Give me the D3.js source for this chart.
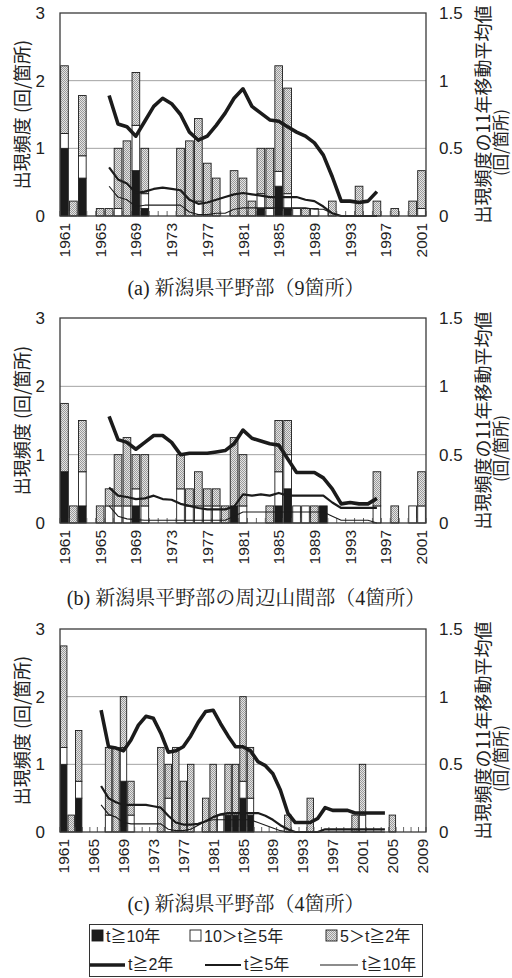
<!DOCTYPE html>
<html>
<head>
<meta charset="utf-8">
<script src="https://cdn.jsdelivr.net/npm/d3@7"></script>
<style>
  html, body { margin: 0; padding: 0; background: #fff; }
  svg { display: block; }
</style>
</head>
<body>
<svg id="chart" width="512" height="978"></svg>
<script>
// ---- categories and tick labels ----
const yearsAB = d3.range(1961, 2002);          // panels (a), (b)
const yearsC = d3.range(1961, 2010);           // panel (c)
const yearLabelsAB = [1961, 1965, 1969, 1973, 1977, 1981, 1985, 1989, 1993, 1997, 2001];
const yearLabelsC = [1961, 1965, 1969, 1973, 1977, 1981, 1985, 1989, 1993, 1997, 2001, 2005, 2009];
const leftTicks = [0, 1, 2, 3];
const rightTicks = [0, 0.5, 1, 1.5];

// ---- (a) 新潟県平野部 (9箇所): yearly frequency by duration class ----
const aBlack = [1.0,0,0.56,0,0,0,0,0,0.67,0.11, 0,0,0,0,0,0,0,0,0,0, 0,0,0.11,0,0.44,0.11,0,0,0,0, 0,0,0,0,0,0,0,0,0,0, 0];
const aWhite = [0.22,0,0.33,0,0,0,0.11,0,0.67,0.22, 0,0,0,0,0,0.22,0,0,0,0, 0,0,0.22,0.11,0.22,0.22,0.11,0,0.11,0, 0,0,0,0,0,0,0,0,0,0, 0.11];
const aGray  = [1.0,0.22,0.89,0,0.11,0.11,0.89,1.11,0.78,0.67, 0,0,0,1.0,1.11,1.22,0.78,0.56,0,0.67, 0.56,0.22,0.67,0.89,1.56,1.56,0,0.11,0,0, 0.22,0,0,0.44,0,0.22,0,0.11,0,0.22, 0.56];
// 11-year moving averages, 1966-1996
const aMa2  = [0.89,0.68,0.66,0.59,0.70,0.81,0.87,0.83,0.75,0.62,0.56,0.59,0.67,0.76,0.87,0.94,0.81,0.76,0.71,0.70,0.66,0.62,0.59,0.54,0.45,0.29,0.11,0.11,0.10,0.11,0.18];
const aMa5  = [0.36,0.27,0.24,0.17,0.18,0.20,0.21,0.20,0.19,0.12,0.09,0.10,0.12,0.14,0.16,0.17,0.16,0.15,0.14,0.14,0.14,0.14,0.12,0.11,0.07,0.02,0,0,0,0,0];
const aMa10 = [0.22,0.14,0.12,0.07,0.08,0.08,0.08,0.08,0.08,0.03,0.01,0.01,0.02,0.02,0.05,0.06,0.06,0.06,0.06,0.06,0.06,0.06,0.06,0.05,0.05,0.02,0,0,0,0,0];

// ---- (b) 新潟県平野部の周辺山間部 (4箇所) ----
const bBlack = [0.75,0,0.25,0,0,0,0,0,0.25,0, 0,0,0,0,0,0,0,0,0,0.25, 0,0,0,0,0.25,0.5,0,0,0,0.25, 0,0,0,0,0,0,0,0,0,0, 0];
const bWhite = [0,0,0.5,0,0,0.25,0.25,0.25,0.25,0.25, 0,0,0,0.5,0.25,0.25,0.25,0.25,0,0, 0.25,0,0,0,0.5,0.5,0.25,0.25,0,0, 0,0,0,0,0,0.25,0,0,0,0.25, 0.25];
const bGray  = [1.0,0.25,0.75,0,0.25,0.25,0.75,1.0,0.5,0.75, 0,0,0,0.5,0.25,0.5,0.25,0.25,0.25,1.0, 0.75,0,0,0.25,0.75,0.5,0,0,0.25,0, 0,0,0,0,0,0.5,0,0.25,0,0, 0.5];
const bMa2  = [0.78,0.61,0.59,0.54,0.59,0.64,0.64,0.59,0.50,0.51,0.51,0.51,0.52,0.53,0.58,0.68,0.62,0.60,0.58,0.57,0.47,0.37,0.37,0.37,0.33,0.25,0.14,0.15,0.14,0.14,0.18];
const bMa5  = [0.26,0.20,0.19,0.175,0.18,0.20,0.175,0.17,0.14,0.125,0.11,0.10,0.10,0.10,0.12,0.21,0.20,0.21,0.20,0.22,0.20,0.20,0.20,0.20,0.20,0.15,0.11,0.11,0.11,0.11,0.11];
const bMa10 = [0.125,0.05,0.03,0.025,0.02,0.02,0.02,0.02,0.02,0.02,0.02,0.02,0.02,0.02,0.05,0.08,0.08,0.08,0.08,0.08,0.08,0.08,0.08,0.08,0.08,0.05,0.02,0.02,0.02,0.02,0];

// ---- (c) 新潟県平野部 (4箇所) ----
const cBlack = [1.0,0,0.5,0,0,0,0,0,0.75,0, 0,0,0,0,0,0,0,0,0,0, 0,0,0.25,0.25,0.5,0.25,0,0,0,0, 0,0,0,0,0,0,0,0,0,0, 0,0,0,0,0,0,0,0,0];
const cWhite = [0.25,0,0.25,0,0,0,0.25,0,0.5,0.25, 0,0,0,0,0.5,0,0,0,0,0, 0,0.25,0,0,0.25,0.25,0,0,0,0, 0,0,0,0,0,0,0,0,0,0, 0.25,0,0,0,0,0,0,0,0];
const cGray  = [1.5,0.25,0.75,0,0,0,1.0,1.25,0.75,0.5, 0,0,0,1.25,0.5,1.25,0.75,1.0,0,0.5, 1.0,0,0.75,0.75,1.25,0.75,0,0,0,0, 0.25,0,0,0.5,0,0,0,0,0,0.25, 0.75,0,0,0,0.25,0,0,0,0];
// 11-year moving averages, 1966-2004
const cMa2  = [0.90,0.63,0.62,0.60,0.68,0.79,0.855,0.84,0.73,0.59,0.60,0.63,0.71,0.81,0.89,0.90,0.80,0.71,0.63,0.63,0.60,0.52,0.49,0.43,0.31,0.14,0.07,0.07,0.07,0.10,0.18,0.16,0.16,0.16,0.14,0.14,0.14,0.14,0.14];
const cMa5  = [0.34,0.25,0.22,0.20,0.20,0.20,0.20,0.19,0.18,0.12,0.07,0.055,0.055,0.06,0.08,0.11,0.13,0.14,0.14,0.14,0.14,0.14,0.12,0.09,0.05,0.02,0,0,0,0,0.02,0.02,0.02,0.02,0.02,0.02,0.02,0.02,0.02];
const cMa10 = [0.20,0.13,0.11,0.07,0.06,0.06,0.06,0.06,0.06,0.02,0.01,0.01,0.02,0.05,0.08,0.09,0.09,0.09,0.09,0.09,0.09,0.07,0.05,0.03,0.01,0,0,0,0,0,0,0,0,0,0,0,0,0,0];

const captions = ["(a) 新潟県平野部（9箇所）", "(b) 新潟県平野部の周辺山間部（4箇所）", "(c) 新潟県平野部（4箇所）"];
const leftTitle = "出現頻度 (回/箇所)";
const rightTitle1 = "出現頻度の11年移動平均値";
const rightTitle2 = "(回/箇所)";
const barLegend = ["t≧10年", "10＞t≧5年", "5＞t≧2年"];
const lineLegend = ["t≧2年", "t≧5年", "t≧10年"];

// ---- drawing ----
const SANS = "'Liberation Sans', Arial, 'Noto Sans CJK JP', sans-serif";
const JP = "'Noto Sans CJK JP', 'Liberation Sans', sans-serif";
const SERIF = "'Liberation Serif', 'Noto Serif CJK JP', 'Noto Sans CJK JP', serif";
const INK = "#1b1b1b";

const svg = d3.select("#chart");
const defs = svg.append("defs");
const pat = defs.append("pattern").attr("id", "hatch")
  .attr("width", 2).attr("height", 2).attr("patternUnits", "userSpaceOnUse");
pat.append("rect").attr("width", 2).attr("height", 2).attr("fill", "#e4e4e4");
pat.append("rect").attr("width", 1).attr("height", 1).attr("fill", "#9a9a9a");
pat.append("rect").attr("x", 1).attr("y", 1).attr("width", 1).attr("height", 1).attr("fill", "#9a9a9a");

const fills = { black: INK, white: "#ffffff", gray: "url(#hatch)" };
const lineWidths = { ma2: 3.6, ma5: 2.2, ma10: 1.1 };

const L = 60, R = 426;

const panels = [
  { years: yearsAB, labels: yearLabelsAB, black: aBlack, white: aWhite, gray: aGray,
    maStart: 1966, ma2: aMa2, ma5: aMa5, ma10: aMa10, top: 13, bottom: 216, cap: captions[0], capY: 295 },
  { years: yearsAB, labels: yearLabelsAB, black: bBlack, white: bWhite, gray: bGray,
    maStart: 1966, ma2: bMa2, ma5: bMa5, ma10: bMa10, top: 318, bottom: 523, cap: captions[1], capY: 605 },
  { years: yearsC, labels: yearLabelsC, black: cBlack, white: cWhite, gray: cGray,
    maStart: 1966, ma2: cMa2, ma5: cMa5, ma10: cMa10, top: 629, bottom: 832, cap: captions[2], capY: 911 }
];

panels.forEach(p => {
  const g = svg.append("g");
  const x = d3.scaleBand().domain(p.years).range([L, R]);
  const yL = d3.scaleLinear().domain([0, 3]).range([p.bottom, p.top]);
  const yR = d3.scaleLinear().domain([0, 1.5]).range([p.bottom, p.top]);
  const bw = x.bandwidth();
  const inset = bw * 0.07;

  // horizontal gridlines
  g.selectAll("line.grid").data([1, 2]).join("line")
    .attr("x1", L).attr("x2", R)
    .attr("y1", d => yL(d)).attr("y2", d => yL(d))
    .attr("stroke", "#a3a3a3").attr("stroke-width", 1);

  // stacked bar segments: black (bottom), white, hatched gray (top)
  const segs = [];
  p.years.forEach((yr, i) => {
    let base = 0;
    [["black", p.black[i]], ["white", p.white[i]], ["gray", p.gray[i]]].forEach(([k, v]) => {
      if (v > 0) { segs.push({ yr, k, y0: base, y1: base + v }); base += v; }
    });
  });
  g.selectAll("rect.seg").data(segs).join("rect")
    .attr("x", d => x(d.yr) + inset)
    .attr("width", bw - 2 * inset)
    .attr("y", d => yL(d.y1))
    .attr("height", d => yL(d.y0) - yL(d.y1))
    .attr("fill", d => fills[d.k])
    .attr("stroke", INK).attr("stroke-width", 0.9);

  // inner tick marks between categories
  const bounds = p.years.map(yr => x(yr)).concat([R]);
  g.selectAll("line.tk").data(bounds).join("line")
    .attr("x1", d => d).attr("x2", d => d)
    .attr("y1", p.bottom).attr("y2", p.bottom - 5)
    .attr("stroke", "#555").attr("stroke-width", 0.9);

  // moving-average lines
  const line = d3.line()
    .x(d => x(d.yr) + bw / 2)
    .y(d => yR(d.v));
  ["ma10", "ma5", "ma2"].forEach(k => {
    const pts = p[k].map((v, i) => ({ yr: p.maStart + i, v }));
    g.append("path").datum(pts)
      .attr("d", line)
      .attr("fill", "none").attr("stroke", INK)
      .attr("stroke-width", lineWidths[k])
      .attr("stroke-linejoin", "round");
  });

  // plot frame
  g.append("rect").attr("x", L).attr("y", p.top)
    .attr("width", R - L).attr("height", p.bottom - p.top)
    .attr("fill", "none").attr("stroke", "#3a3a3a").attr("stroke-width", 1.3);

  // left axis labels
  const axL = g.append("g").attr("transform", `translate(${L},0)`)
    .call(d3.axisLeft(yL).tickValues(leftTicks).tickSize(0).tickPadding(15).tickFormat(d => String(d)));
  axL.select(".domain").remove();
  axL.selectAll("text").attr("font-family", SANS).attr("font-size", 17).attr("fill", "#222");

  // right axis labels
  const axR = g.append("g").attr("transform", `translate(${R},0)`)
    .call(d3.axisRight(yR).tickValues(rightTicks).tickSize(0).tickPadding(13).tickFormat(d => String(d)));
  axR.select(".domain").remove();
  axR.selectAll("text").attr("font-family", SANS).attr("font-size", 17).attr("fill", "#222");

  // year labels, rotated
  const axB = g.append("g").attr("transform", `translate(0,${p.bottom})`)
    .call(d3.axisBottom(x).tickValues(p.labels).tickSize(0));
  axB.select(".domain").remove();
  axB.selectAll("text")
    .attr("font-family", SANS).attr("font-size", 15.5).attr("fill", "#222")
    .attr("transform", "rotate(-90)")
    .attr("x", -7).attr("y", 0).attr("dy", "0.36em")
    .attr("text-anchor", "end");

  const mid = (p.top + p.bottom) / 2;
  // axis titles
  g.append("text").attr("transform", `translate(21,${mid}) rotate(-90)`)
    .attr("text-anchor", "middle").attr("dominant-baseline", "central")
    .attr("font-family", JP).attr("font-size", 18).attr("fill", "#222")
    .text(leftTitle);
  g.append("text").attr("transform", `translate(482,${mid}) rotate(-90)`)
    .attr("text-anchor", "middle").attr("dominant-baseline", "central")
    .attr("font-family", JP).attr("font-size", 18).attr("fill", "#222")
    .text(rightTitle1);
  g.append("text").attr("transform", `translate(500,${mid + 28}) rotate(-90)`)
    .attr("text-anchor", "middle").attr("dominant-baseline", "central")
    .attr("font-family", JP).attr("font-size", 16.5).attr("fill", "#222")
    .text(rightTitle2);

  // caption
  g.append("text").attr("x", 246).attr("y", p.capY)
    .attr("text-anchor", "middle")
    .attr("font-family", SERIF).attr("font-size", 20).attr("fill", "#222")
    .text(p.cap);
});

// ---- legend ----
const lg = svg.append("g");
lg.append("rect").attr("x", 89.5).attr("y", 924.5).attr("width", 333).attr("height", 52)
  .attr("fill", "#fff").attr("stroke", "#333").attr("stroke-width", 1);

const barKeys = [
  { fill: fills.black, sx: 92, tx: 106 },
  { fill: fills.white, sx: 190, tx: 204 },
  { fill: fills.gray, sx: 326, tx: 340 }
];
lg.selectAll("rect.key").data(barKeys).join("rect")
  .attr("x", d => d.sx).attr("y", 930).attr("width", 11).attr("height", 11)
  .attr("fill", d => d.fill).attr("stroke", INK).attr("stroke-width", 0.9);
lg.selectAll("text.bk").data(barKeys).join("text")
  .attr("x", d => d.tx).attr("y", 936).attr("dominant-baseline", "central")
  .attr("font-family", SANS).attr("font-size", 16).attr("fill", "#222")
  .text((d, i) => barLegend[i]);

const lineKeys = [
  { w: lineWidths.ma2, x1: 90, x2: 125, tx: 128 },
  { w: lineWidths.ma5, x1: 205, x2: 241, tx: 244 },
  { w: lineWidths.ma10, x1: 320, x2: 358, tx: 362 }
];
lg.selectAll("line.lk").data(lineKeys).join("line")
  .attr("x1", d => d.x1).attr("x2", d => d.x2).attr("y1", 965).attr("y2", 965)
  .attr("stroke", INK).attr("stroke-width", d => d.w);
lg.selectAll("text.lt").data(lineKeys).join("text")
  .attr("x", d => d.tx).attr("y", 964).attr("dominant-baseline", "central")
  .attr("font-family", SANS).attr("font-size", 16).attr("fill", "#222")
  .text((d, i) => lineLegend[i]);
</script>
</body>
</html>
